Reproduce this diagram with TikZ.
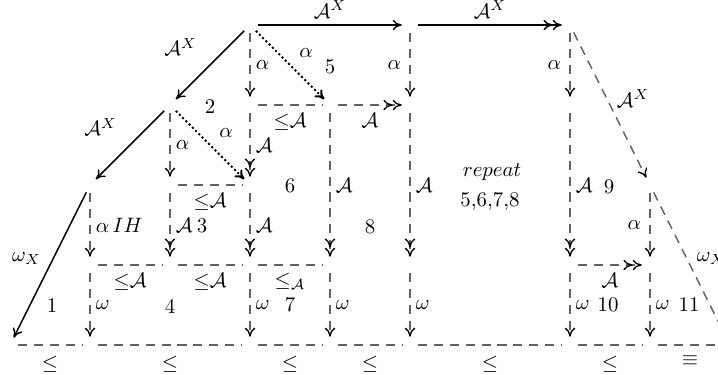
\documentclass[tikz,border=0pt]{standalone}
\usetikzlibrary{arrows.meta,positioning}
\begin{document}
\begin{tikzpicture}[x=0.48pt,y=-0.48pt,
  >={Computer Modern Rightarrow[length=4.4pt,width=5pt,color=black]},
  pt/.style={circle, inner sep=0pt, minimum size=7.5pt},
  solidar/.style={line width=0.7pt},
  dashar/.style={draw=black!62, line width=0.65pt, dash pattern=on 4.4pt off 3.2pt},
  dotar/.style={line width=1pt, dash pattern=on 1pt off 1.2pt},
  rl/.style={right=2.5pt, inner sep=0pt},
  ll/.style={left=4pt, inner sep=0pt},
  bl/.style={below=3.5pt, inner sep=0pt},
  bb/.style={below=5pt, inner sep=0pt},
  txt/.style={inner sep=0pt}]
\useasboundingbox (0,0) rectangle (718,374);
\clip (0,0) rectangle (718,374);
% grid points
\node[pt] (n03) at (250,25) {};
\node[pt] (n05) at (410,25) {};
\node[pt] (n07) at (570,25) {};
\node[pt] (n12) at (170,105) {};
\node[pt] (n13) at (250,105) {};
\node[pt] (n14) at (330,105) {};
\node[pt] (n15) at (410,105) {};
\node[pt] (n17) at (570,105) {};
\node[pt] (n21) at (90,185) {};
\node[pt] (n22) at (170,185) {};
\node[pt] (n23) at (250,185) {};
\node[pt] (n28) at (650,185) {};
\node[pt] (n31) at (90,265) {};
\node[pt] (n32) at (170,265) {};
\node[pt] (n33) at (250,265) {};
\node[pt] (n34) at (330,265) {};
\node[pt] (n35) at (410,265) {};
\node[pt] (n37) at (570,265) {};
\node[pt] (n38) at (650,265) {};
\node[pt] (n40) at (10,345) {};
\node[pt] (n41) at (90,345) {};
\node[pt] (n43) at (250,345) {};
\node[pt] (n44) at (330,345) {};
\node[pt] (n45) at (410,345) {};
\node[pt] (n47) at (570,345) {};
\node[pt] (n48) at (650,345) {};
\node[pt] (n49) at (730,345) {};
% top solid arrows
\draw[solidar,->] (n03) -- node[above=3pt,inner sep=0pt]{$\mathcal{A}^X$} (n05);
\draw[solidar,->>] (n05) -- node[above=3pt,inner sep=0pt]{$\mathcal{A}^X$} (n07);
% diagonals
\draw[solidar,->] (n03) -- node[above left=4pt and 6pt,inner sep=0pt]{$\mathcal{A}^X$} (n12);
\draw[solidar,->] (n12) -- node[above left=4pt and 6pt,inner sep=0pt]{$\mathcal{A}^X$} (n21);
\draw[solidar,->] (n21) -- node[left=4pt,yshift=3pt,inner sep=0pt]{$\omega_X$} (n40);
\draw[dotar,->] (n03) -- node[above right=3pt and 4pt,inner sep=0pt]{$\alpha$} (n14);
\draw[dotar,->] (n12) -- node[above right=3pt and 4pt,inner sep=0pt]{$\alpha$} (n23);
\draw[dashar,->] (n07) -- node[right=3pt,yshift=3pt,inner sep=0pt]{$\mathcal{A}^X$} (n28);
\draw[dashar,->] (n28) -- node[right=3pt,yshift=3pt,inner sep=0pt]{$\omega_X$} (n49);
% verticals
\draw[dashar,->] (n21) -- node[rl]{$\alpha\,IH$} (n31);
\draw[dashar,->] (n31) -- node[rl]{$\omega$} (n41);
\draw[dashar,->] (n12) -- node[rl]{$\alpha$} (n22);
\draw[dashar,->>] (n22) -- node[rl]{$\mathcal{A}$} (n32);
\draw[dashar,->] (n03) -- node[rl]{$\alpha$} (n13);
\draw[dashar,->>] (n13) -- node[rl]{$\mathcal{A}$} (n23);
\draw[dashar,->>] (n23) -- node[rl]{$\mathcal{A}$} (n33);
\draw[dashar,->] (n33) -- node[rl]{$\omega$} (n43);
\draw[dashar,->>] (n14) -- node[rl]{$\mathcal{A}$} (n34);
\draw[dashar,->] (n34) -- node[rl]{$\omega$} (n44);
\draw[dashar,->] (n05) -- node[ll]{$\alpha$} (n15);
\draw[dashar,->>] (n15) -- node[rl]{$\mathcal{A}$} (n35);
\draw[dashar,->] (n35) -- node[rl]{$\omega$} (n45);
\draw[dashar,->] (n07) -- node[ll]{$\alpha$} (n17);
\draw[dashar,->>] (n17) -- node[rl]{$\mathcal{A}$} (n37);
\draw[dashar,->] (n37) -- node[rl]{$\omega$} (n47);
\draw[dashar,->] (n28) -- node[ll]{$\alpha$} (n38);
\draw[dashar,->] (n38) -- node[rl]{$\omega$} (n48);
% horizontals
\draw[dashar] (n13) -- node[bl]{${\leq}\mathcal{A}$} (n14);
\draw[dashar,->>] (n14) -- node[bl]{$\mathcal{A}$} (n15);
\draw[dashar] (n22) -- node[bl]{${\leq}\mathcal{A}$} (n23);
\draw[dashar] (n31) -- node[bl]{${\leq}\mathcal{A}$} (n32);
\draw[dashar] (n32) -- node[bl]{${\leq}\mathcal{A}$} (n33);
\draw[dashar] (n33) -- node[bl]{$\leq_{\mathcal{A}}$} (n34);
\draw[dashar,->>] (n37) -- node[bl]{$\mathcal{A}$} (n38);
\draw[dashar] (n40) -- node[bb]{$\leq$} (n41);
\draw[dashar] (n41) -- node[bb]{$\leq$} (n43);
\draw[dashar] (n43) -- node[bb]{$\leq$} (n44);
\draw[dashar] (n44) -- node[bb]{$\leq$} (n45);
\draw[dashar] (n45) -- node[bb]{$\leq$} (n47);
\draw[dashar] (n47) -- node[bb]{$\leq$} (n48);
\draw[dashar] (n48) -- node[bb]{$\equiv$} (n49);
% region labels
\node[txt] (t2) at (210,107) {2};
\node[txt] (t5) at (330,67) {5};
\node[txt] (t6) at (290,186) {6};
\node[txt] (t3) at (202,226) {3};
\node[txt] (t8) at (370,227) {8};
\node[txt] (trep) at (492,172) {$repeat$};
\node[txt] (tnum) at (490,201) {5,6,7,8};
\node[txt] (t9) at (609,187) {9};
\node[txt] (t1) at (52,306) {1};
\node[txt] (t4) at (170,306) {4};
\node[txt] (t7) at (290,305) {7};
\node[txt] (t10) at (608,305) {10};
\node[txt] (t11) at (689,305) {11};
\end{tikzpicture}
\end{document}
